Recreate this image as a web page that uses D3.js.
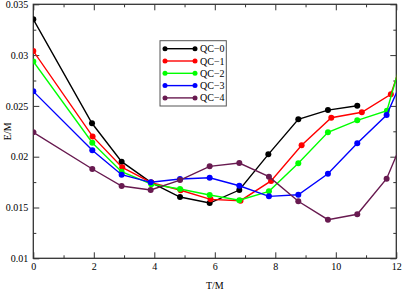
<!DOCTYPE html>
<html><head><meta charset="utf-8">
<script src="https://cdn.jsdelivr.net/npm/d3@7"></script>
<style>html,body{margin:0;padding:0;background:#fff;}svg{display:block;font-family:"Liberation Serif","DejaVu Serif",serif;}</style>
</head><body><svg id="c" width="402" height="292"></svg>
<script>
const seriesNames = ["QC\u22120","QC\u22121","QC\u22122","QC\u22123","QC\u22124"];
const colors = ["#000000","#ff0000","#00ff00","#0000ff","#681a50"];
const tQC0 = [0, 1.94, 2.92, 3.9, 4.85, 5.83, 6.81, 7.77, 8.76, 9.74, 10.71];
const eQC0 = [0.03352, 0.02329, 0.01951, 0.01745, 0.01603, 0.01544, 0.01672, 0.02023, 0.02368, 0.02459, 0.02502];
const tQC1 = [0, 1.96, 2.94, 3.9, 4.87, 5.86, 6.85, 7.86, 8.87, 9.85, 10.86, 11.82, 12.8];
const eQC1 = [0.0304, 0.0220, 0.01895, 0.01745, 0.0167, 0.0158, 0.01567, 0.01762, 0.02112, 0.02384, 0.02437, 0.02614, 0.0347];
const tQC2 = [0, 1.95, 2.92, 3.9, 4.85, 5.83, 6.81, 7.79, 8.76, 9.74, 10.71, 11.69, 12.66];
const eQC2 = [0.02938, 0.02138, 0.01852, 0.0173, 0.01682, 0.01623, 0.01571, 0.01659, 0.01935, 0.0224, 0.02358, 0.02452, 0.0346];
const tQC3 = [0, 1.95, 2.92, 3.88, 4.85, 5.83, 6.81, 7.79, 8.76, 9.74, 10.71, 11.68, 12.66];
const eQC3 = [0.02643, 0.02063, 0.01823, 0.01748, 0.0178, 0.01793, 0.01714, 0.0161, 0.01626, 0.01832, 0.02132, 0.0241, 0.0307];
const tQC4 = [0, 1.95, 2.92, 3.88, 4.85, 5.83, 6.81, 7.79, 8.76, 9.74, 10.71, 11.68, 12.66];
const eQC4 = [0.0224, 0.01879, 0.01711, 0.01672, 0.0177, 0.01905, 0.01938, 0.01803, 0.01561, 0.0138, 0.01433, 0.01783, 0.0248];
const xTicks = [0, 2, 4, 6, 8, 10, 12];
const yTicks = [0.01, 0.015, 0.02, 0.025, 0.03, 0.035];
const yTickLabels = ["0.01", "0.015", "0.02", "0.025", "0.03", "0.035"];

const tArr = [tQC0, tQC1, tQC2, tQC3, tQC4];
const eArr = [eQC0, eQC1, eQC2, eQC3, eQC4];
const series = seriesNames.map((n, i) => ({name: n, color: colors[i], pts: tArr[i].map((t, j) => [t, eArr[i][j]])}));

const svg = d3.select("#c");
const L = 33.3, R = 396.3, T = 4.3, B = 258.3;
const x = d3.scaleLinear().domain([0, 12]).range([L, R]);
const y = d3.scaleLinear().domain([0.01, 0.035]).range([B, T]);

svg.append("clipPath").attr("id", "clip").append("rect")
  .attr("x", L).attr("y", T).attr("width", R - L).attr("height", B - T);

const xMinor = d3.range(1, 12, 2);
const yMinor = d3.range(0, 5).map(i => 0.0125 + i * 0.005);
const ax = "#333";
const gB = svg.append("g").attr("transform", `translate(0,${B})`)
  .call(d3.axisBottom(x).tickValues(xTicks).tickSize(-6).tickPadding(5).tickFormat(d3.format("d")));
const gBm = svg.append("g").attr("transform", `translate(0,${B})`)
  .call(d3.axisBottom(x).tickValues(xMinor).tickSize(-3).tickFormat(""));
const gT = svg.append("g").attr("transform", `translate(0,${T})`)
  .call(d3.axisTop(x).tickValues(xTicks).tickSize(-6).tickFormat(""));
const gTm = svg.append("g").attr("transform", `translate(0,${T})`)
  .call(d3.axisTop(x).tickValues(xMinor).tickSize(-3).tickFormat(""));
const gL = svg.append("g").attr("transform", `translate(${L},0)`)
  .call(d3.axisLeft(y).tickValues(yTicks).tickSize(-6).tickPadding(5).tickFormat((d, i) => yTickLabels[i]));
const gLm = svg.append("g").attr("transform", `translate(${L},0)`)
  .call(d3.axisLeft(y).tickValues(yMinor).tickSize(-3).tickFormat(""));
const gR = svg.append("g").attr("transform", `translate(${R},0)`)
  .call(d3.axisRight(y).tickValues(yTicks).tickSize(-6).tickFormat(""));
const gRm = svg.append("g").attr("transform", `translate(${R},0)`)
  .call(d3.axisRight(y).tickValues(yMinor).tickSize(-3).tickFormat(""));
[gB, gBm, gT, gTm, gL, gLm, gR, gRm].forEach(g => {
  g.select(".domain").remove();
  g.selectAll(".tick line").attr("stroke", ax).attr("stroke-width", 1);
  g.selectAll(".tick text").attr("fill", "#000").attr("font-size", 10).attr("font-family", "Liberation Serif, serif");
});
gB.selectAll(".tick text").attr("dy", "0.71em");

svg.append("rect").attr("x", L).attr("y", T).attr("width", R - L).attr("height", B - T)
  .attr("fill", "none").attr("stroke", ax).attr("stroke-width", 1.3);

const line = d3.line().x(d => x(d[0])).y(d => y(d[1]));
const dg = svg.append("g").attr("clip-path", "url(#clip)");
series.forEach(s => {
  dg.append("path").datum(s.pts).attr("d", line).attr("fill", "none")
    .attr("stroke", s.color).attr("stroke-width", 1.4);
  dg.selectAll(null).data(s.pts).enter().append("circle")
    .attr("cx", d => x(d[0])).attr("cy", d => y(d[1])).attr("r", 3).attr("fill", s.color);
});

svg.append("text").attr("x", (L + R) / 2).attr("y", 289).attr("text-anchor", "middle")
  .attr("font-size", 10).text("T/M");
svg.append("text").attr("transform", `translate(11,${(T + B) / 2}) rotate(-90)`).attr("text-anchor", "middle")
  .attr("font-size", 10).text("E/M");

const lg = svg.append("g");
lg.append("rect").attr("x", 160).attr("y", 40.7).attr("width", 66.3).attr("height", 65.3)
  .attr("fill", "#fff").attr("stroke", "#555").attr("stroke-width", 1);
series.forEach((s, i) => {
  const yy = 48.7 + i * 12.3;
  lg.append("line").attr("x1", 165).attr("x2", 195).attr("y1", yy).attr("y2", yy)
    .attr("stroke", s.color).attr("stroke-width", 1.4);
  lg.append("circle").attr("cx", 165).attr("cy", yy).attr("r", 2.5).attr("fill", s.color);
  lg.append("circle").attr("cx", 195).attr("cy", yy).attr("r", 2.5).attr("fill", s.color);
  lg.append("text").attr("x", 200).attr("y", yy + 3.5).attr("font-size", 10).text(s.name);
});
</script></body></html>
